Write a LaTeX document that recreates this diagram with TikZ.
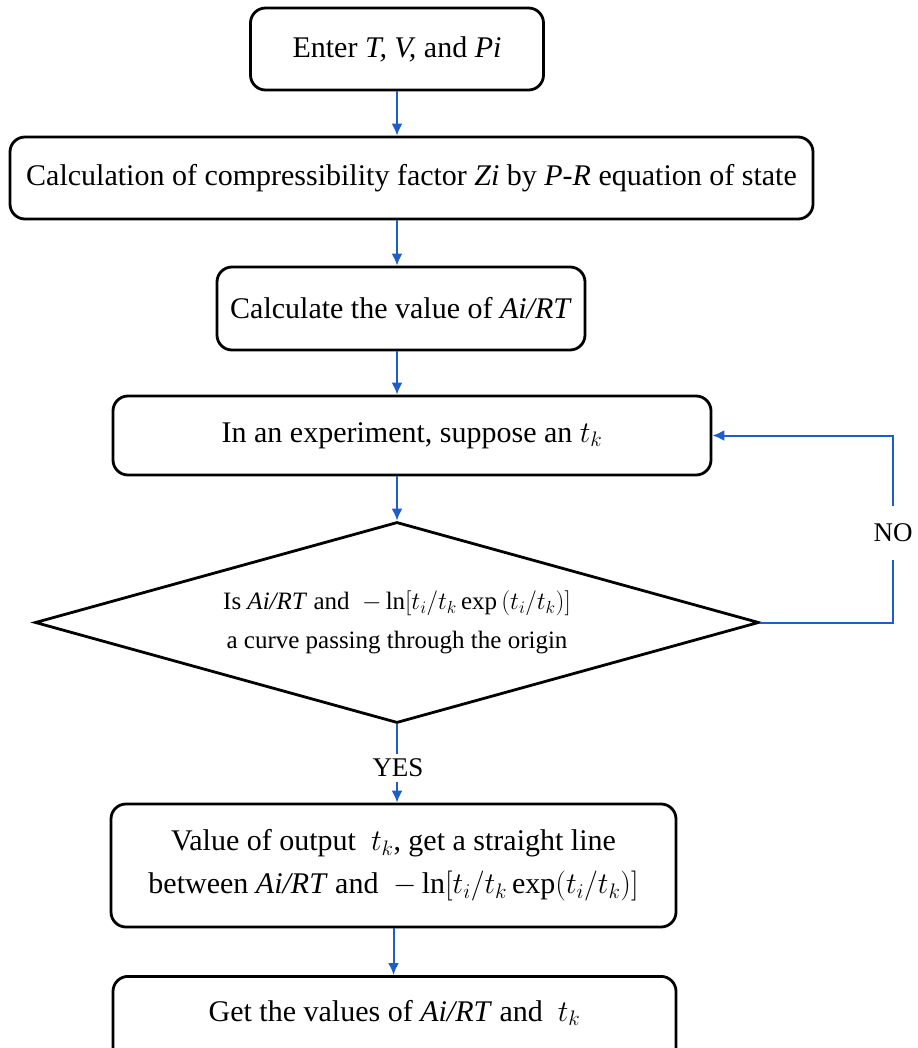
\RequirePackage{fix-cm}
\documentclass[tikz,border=0pt]{standalone}
\usepackage{amsmath}
\usepackage{fontspec}
\setmainfont{Liberation Serif}
\usepackage{tikz}
\usetikzlibrary{calc,positioning,shapes.geometric,arrows.meta}
\definecolor{flowblue}{RGB}{30,94,200}
\tikzset{
  stepbox/.style={draw=black, line width=2.8pt, rounded corners=15pt, inner sep=0pt, align=center, font=\fontsize{30}{43}\selectfont},
  decision/.style={diamond, draw=black, line width=2.8pt, aspect=3.6, inner sep=0pt, align=center, font=\fontsize{25}{39}\selectfont},
  branch/.style={font=\fontsize{27}{30}\selectfont, inner xsep=1pt},
  flowline/.style={draw=flowblue, line width=2pt},
  flow/.style={flowline, -{Latex[length=12pt,width=11pt]}}
}
\def\drawflow{\draw[flow]}
\def\stepnode{\node[stepbox]}

\begin{document}
\begin{tikzpicture}[x=1pt,y=-1pt]
\useasboundingbox (0,0) rectangle (917,1048);
\coordinate (spine) at (397,0); % column of the down arrows

% ---------- the steps, top to bottom
\stepnode[minimum width=293pt, minimum height=82pt] (enter) at (397,49) {Enter \textit{T, V,} and \textit{Pi}};
\stepnode[minimum width=803pt, minimum height=82pt] (zcalc) at (411.5,178) {Calculation of compressibility factor \textit{Zi} by \textit{P-R} equation of state};
\stepnode[minimum width=368pt, minimum height=83pt] (arcalc) at (401,308.5) {Calculate the value of \textit{Ai/RT}};
\stepnode[minimum width=598pt, minimum height=79pt] (guess) at (412,435.5) {In an experiment, suppose an $t_k$};
\node[decision, minimum width=724pt, minimum height=201pt] (check) at (397,622.5) {Is \textit{Ai/RT} and \ $-\ln[t_i/t_k \exp\,(t_i/t_k)]$\\ a curve passing through the origin};
\stepnode[minimum width=565pt, minimum height=123pt] (output) at (393.5,865.5) {Value of output \ $t_k$, get a straight line\\ between \textit{Ai/RT} and \ $-\ln[t_i/t_k \exp(t_i/t_k)]$};
% bottom edge runs off the page, so the text sits high in a tall box
\stepnode[minimum width=563pt, minimum height=150pt, anchor=north, text height=21pt, text depth=81pt] (result) at (394.5,975) {Get the values of \textit{Ai/RT} and \ $t_k$};

% ---------- down the spine
\drawflow (enter.south -| spine) -- (zcalc.north -| spine);
\drawflow (zcalc.south -| spine) -- (arcalc.north -| spine);
\drawflow (arcalc.south -| spine) -- (guess.north -| spine);
\drawflow (guess.south -| spine) -- (check.north);

% ---------- YES branch
\node[branch, inner ysep=5pt] (yes) at (398,768) {YES};
\draw[flowline] (check.south) -- (yes.north -| check.south);
\drawflow (yes.south -| check.south) -- (output.north -| check.south);

% ---------- NO branch, back up to the guess
\node[branch, inner ysep=18pt] (no) at (893,533) {NO};
\draw[flowline] (check.east) -| (no.south);
\drawflow (no.north) |- (guess.east);

% ---------- last step
\drawflow (output.south) -- (result.north -| output.south);
\end{tikzpicture}
\end{document}
